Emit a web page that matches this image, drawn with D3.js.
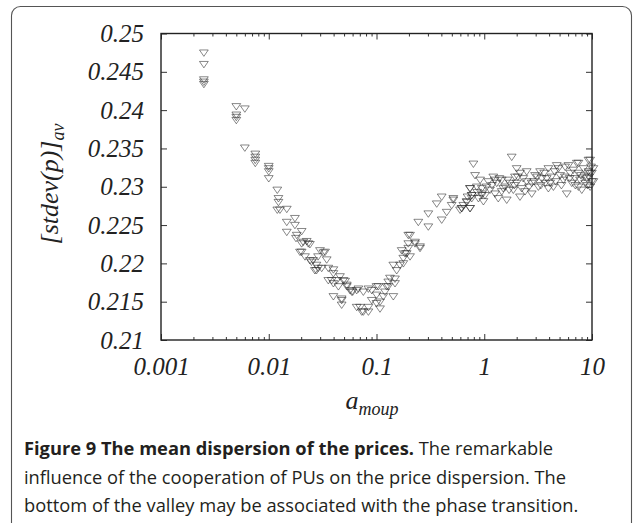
<!DOCTYPE html>
<html lang="en">

<head>
    <meta charset="utf-8">
    <title>Mean dispersion of the prices</title>
    <style>
        * {
            margin: 0;
            padding: 0;
            box-sizing: border-box;
        }

        body {
            background: #fff;
            width: 633px;
            height: 523px;
            overflow: hidden;
        }

        svg {
            display: block;
        }
    </style>
</head>

<body>
    <div id="chart"></div>
    <script src="https://d3js.org/d3.v7.min.js"></script>

    <script>
        // [a_moup, stdev] pairs, left branch of the curve
        var fallBranch = [
            [0.0025, 0.2475], [0.0025, 0.2460], [0.0025, 0.2440], [0.0025, 0.2437], [0.0025, 0.2434],
            [0.005, 0.2405], [0.006, 0.2402], [0.005, 0.2394], [0.005, 0.2391], [0.005, 0.2387],
            [0.006, 0.2351], [0.0075, 0.2343], [0.0075, 0.2339], [0.0075, 0.2335], [0.0075, 0.2331],
            [0.01, 0.2327], [0.01, 0.2324], [0.01, 0.2320], [0.01, 0.2311],
            [0.012, 0.2296], [0.0123, 0.2285], [0.0123, 0.2280], [0.012, 0.2270], [0.0127, 0.2270], [0.0147, 0.2271],
            [0.0175, 0.2259], [0.0147, 0.2254], [0.0175, 0.2250], [0.0147, 0.2241], [0.0202, 0.2242], [0.0179, 0.2233],
            [0.0182, 0.2237], [0.0209, 0.2228], [0.0225, 0.2229], [0.0241, 0.2225], [0.0233, 0.2226], [0.0202, 0.2226],
            [0.0195, 0.2215], [0.0202, 0.2215], [0.0299, 0.2217], [0.0321, 0.2214], [0.0333, 0.2215], [0.0217, 0.2209],
            [0.0287, 0.2209], [0.0258, 0.2204], [0.0241, 0.2204], [0.0345, 0.2205], [0.0249, 0.2202], [0.031, 0.2194],
            [0.0277, 0.2198], [0.0277, 0.2191], [0.0268, 0.2191], [0.0287, 0.2194], [0.0357, 0.2194]
        ];

        // bottom of the valley
        var valleyFloor = [
            [0.0398, 0.2192], [0.0398, 0.2187], [0.0458, 0.2183], [0.0384, 0.2178], [0.0428, 0.2178], [0.0493, 0.2178],
            [0.0357, 0.2178], [0.0511, 0.2177], [0.0398, 0.2174], [0.0443, 0.2170], [0.053, 0.2172], [0.053, 0.2170],
            [0.0568, 0.2165], [0.0601, 0.2163], [0.0589, 0.2163], [0.0679, 0.2167], [0.0655, 0.2165], [0.0755, 0.2163],
            [0.0841, 0.2167], [0.0904, 0.2165], [0.1, 0.2170], [0.1039, 0.2170], [0.0398, 0.2157], [0.0475, 0.2154],
            [0.0475, 0.2152], [0.0475, 0.2146], [0.0655, 0.2143], [0.0704, 0.2143], [0.073, 0.2137], [0.0755, 0.2137],
            [0.0841, 0.2137], [0.0841, 0.2143], [0.0904, 0.2152], [0.1078, 0.2150], [0.1078, 0.2141], [0.1, 0.2148],
            [0.1, 0.2159], [0.1157, 0.2157], [0.1432, 0.2157], [0.1199, 0.2163], [0.1243, 0.2170], [0.1286, 0.2170],
            [0.1286, 0.2176], [0.1485, 0.2174], [0.1334, 0.2181], [0.1485, 0.2180]
        ];

        // right branch, climbing out of the valley
        var riseBranch = [
            [0.1432, 0.2198], [0.1539, 0.2191], [0.1652, 0.2198], [0.1773, 0.2200], [0.1773, 0.2207], [0.184, 0.2213],
            [0.1906, 0.2213], [0.1713, 0.2217], [0.2047, 0.2209], [0.1973, 0.2220], [0.1973, 0.2226], [0.1973, 0.2237],
            [0.2047, 0.2237], [0.2276, 0.2226], [0.2276, 0.2228], [0.2535, 0.2222], [0.2535, 0.2220], [0.2443, 0.2254],
            [0.3027, 0.2248], [0.3027, 0.2265], [0.3622, 0.2278], [0.4028, 0.2257], [0.4484, 0.2267], [0.4986, 0.2276],
            [0.5162, 0.2283], [0.4028, 0.2287], [0.5162, 0.2285], [0.5962, 0.2270], [0.618, 0.2272], [0.6398, 0.2276],
            [0.6884, 0.2280], [0.738, 0.2272], [0.7655, 0.2285], [0.7655, 0.2289], [0.738, 0.2298], [0.9487, 0.2289]
        ];

        // saturation for strong cooperation
        var plateau = [
            [0.618, 0.2272], [0.688, 0.2281], [0.738, 0.2272], [0.766, 0.2289], [0.738, 0.2298], [0.793, 0.2330],
            [0.822, 0.2315], [0.915, 0.2309], [0.853, 0.2300], [0.949, 0.2291], [0.982, 0.2281], [0.883, 0.2285],
            [1.016, 0.2289], [1.131, 0.2296], [1.09, 0.2307], [1.213, 0.2313], [1.305, 0.2305], [1.349, 0.2285],
            [1.26, 0.2291], [1.452, 0.2294], [1.452, 0.2309], [1.616, 0.2283], [1.56, 0.2300], [1.734, 0.2305],
            [1.798, 0.2339], [1.928, 0.2313], [1.862, 0.2296], [2.0, 0.2324], [2.146, 0.2318], [2.226, 0.2298],
            [2.146, 0.2287], [2.0, 0.2305], [2.477, 0.2320], [2.477, 0.2307], [2.39, 0.2294], [2.758, 0.2305],
            [2.758, 0.2291], [2.963, 0.2315], [3.298, 0.2320], [3.42, 0.2311], [3.18, 0.2300], [3.936, 0.2324],
            [3.80, 0.2311], [3.936, 0.2298], [4.384, 0.2300], [4.084, 0.2305], [4.71, 0.2328], [5.054, 0.2315],
            [4.88, 0.2324], [5.43, 0.2309], [5.83, 0.2291], [6.04, 0.2328], [5.63, 0.2326], [6.49, 0.2305],
            [6.27, 0.2318], [6.98, 0.2311], [7.23, 0.2331], [7.48, 0.2318], [7.48, 0.2300], [8.04, 0.2296],
            [8.33, 0.2324], [7.75, 0.2309], [8.95, 0.2311], [9.27, 0.2320], [9.61, 0.2335], [9.97, 0.2307],
            [9.61, 0.2300], [8.64, 0.2305], [9.97, 0.2318], [10.3, 0.2324], [7.48, 0.2331], [9.27, 0.2335],
            [10.3, 0.2307], [9.61, 0.2318],
            [1.05, 0.2300], [1.18, 0.2302], [1.25, 0.2309], [1.38, 0.2311], [1.5, 0.2298], [1.65, 0.2309],
            [1.7, 0.2296], [1.9, 0.2302], [2.05, 0.2313], [2.3, 0.2311], [2.6, 0.2300], [2.9, 0.2307],
            [3.1, 0.2313], [3.35, 0.2302], [3.6, 0.2318], [3.7, 0.2305], [4.2, 0.2313], [4.5, 0.2320],
            [4.6, 0.2307], [5.2, 0.2302], [5.6, 0.2313], [6.2, 0.2311], [6.7, 0.2322], [7.0, 0.2302],
            [7.9, 0.2315], [8.5, 0.2313], [9.1, 0.2302], [9.4, 0.2313], [9.8, 0.2326], [0.95, 0.2298],
            [0.86, 0.2293], [0.7, 0.2287]
        ];

        var xTicks = [0.001, 0.01, 0.1, 1, 10];
        var xTickLabels = ["0.001", "0.01", "0.1", "1", "10"];
        var yTicks = [0.21, 0.215, 0.22, 0.225, 0.23, 0.235, 0.24, 0.245, 0.25];
        var yTickLabels = ["0.21", "0.215", "0.22", "0.225", "0.23", "0.235", "0.24", "0.245", "0.25"];

        var captionTitle = "Figure 9 The mean dispersion of the prices.";
        var captionLines = [
            " The remarkable",
            "influence of the cooperation of PUs on the price dispersion. The",
            "bottom of the valley may be associated with the phase transition."
        ];

        var width = 633,
            height = 523;
        var plot = { left: 161, right: 592, top: 33.5, bottom: 340 };
        var serif = "'Liberation Serif', 'DejaVu Serif', serif";

        var svg = d3.select("#chart")
            .append("svg")
            .attr("width", width)
            .attr("height", height);

        // rounded figure frame, runs off the bottom
        svg.append("rect")
            .attr("x", 11.5)
            .attr("y", 6.5)
            .attr("width", 620)
            .attr("height", 600)
            .attr("rx", 9)
            .style("fill", "none")
            .style("stroke", "#555")
            .style("stroke-width", 1.1);

        var x = d3.scaleLog().domain([0.001, 10]).range([plot.left, plot.right]);
        var y = d3.scaleLinear().domain([0.21, 0.25]).range([plot.bottom, plot.top]);

        var minorX = x.ticks().filter(function (t) {
            return xTicks.indexOf(t) < 0;
        });

        function styleAxis(g) {
            g.select(".domain").remove();
            g.selectAll("line").style("stroke", "#333").style("stroke-width", 1);
        }

        // inward ticks on all four sides
        svg.append("g")
            .attr("transform", "translate(0," + plot.bottom + ")")
            .call(d3.axisBottom(x).tickValues(minorX).tickSize(-3).tickFormat(""))
            .call(styleAxis);
        svg.append("g")
            .attr("transform", "translate(0," + plot.top + ")")
            .call(d3.axisTop(x).tickValues(minorX).tickSize(-3).tickFormat(""))
            .call(styleAxis);
        svg.append("g")
            .attr("transform", "translate(0," + plot.top + ")")
            .call(d3.axisTop(x).tickValues(xTicks).tickSize(-6).tickFormat(""))
            .call(styleAxis);
        svg.append("g")
            .attr("transform", "translate(" + plot.right + ",0)")
            .call(d3.axisRight(y).tickValues(yTicks).tickSize(-6).tickFormat(""))
            .call(styleAxis);

        var xAxis = svg.append("g")
            .attr("transform", "translate(0," + plot.bottom + ")")
            .call(d3.axisBottom(x).tickValues(xTicks).tickSize(-6).tickPadding(17)
                .tickFormat(function (d, i) { return xTickLabels[i]; }))
            .call(styleAxis);

        var yAxis = svg.append("g")
            .attr("transform", "translate(" + plot.left + ",0)")
            .call(d3.axisLeft(y).tickValues(yTicks).tickSize(-6).tickPadding(17)
                .tickFormat(function (d, i) { return yTickLabels[i]; }))
            .call(styleAxis);

        svg.selectAll(".tick text")
            .style("font-family", serif)
            .style("font-style", "italic")
            .style("font-size", "25px")
            .style("fill", "#222");

        // plot box
        svg.append("rect")
            .attr("x", plot.left)
            .attr("y", plot.top)
            .attr("width", plot.right - plot.left)
            .attr("height", plot.bottom - plot.top)
            .style("fill", "none")
            .style("stroke", "#222")
            .style("stroke-width", 1.4);

        // open downward triangles
        var points = fallBranch.concat(valleyFloor, riseBranch, plateau);
        svg.append("g")
            .selectAll("path")
            .data(points)
            .enter()
            .append("path")
            .attr("d", "M-4.4,-2.7L4.4,-2.7L0,3.7Z")
            .attr("transform", function (d) {
                return "translate(" + x(d[0]) + "," + y(d[1]) + ")";
            })
            .style("fill", "none")
            .style("stroke", "#222")
            .style("stroke-opacity", 0.6)
            .style("stroke-width", 0.9);

        // axis titles
        var xTitle = svg.append("text")
            .attr("x", 372)
            .attr("y", 409)
            .attr("text-anchor", "middle")
            .style("font-family", serif)
            .style("font-style", "italic")
            .style("font-size", "26px")
            .style("fill", "#222");
        xTitle.append("tspan").text("a");
        xTitle.append("tspan").attr("dy", 6).style("font-size", "18px").text("moup");

        var yTitle = svg.append("text")
            .attr("transform", "translate(58," + 184 + ") rotate(-90)")
            .attr("text-anchor", "middle")
            .style("font-family", serif)
            .style("font-style", "italic")
            .style("font-size", "26px")
            .style("fill", "#222");
        yTitle.append("tspan").text("[stdev(p)]");
        yTitle.append("tspan").attr("dy", 6).style("font-size", "18px").text("av");

        // caption
        var caption = svg.append("g")
            .style("font-family", "'Open Sans', 'Noto Sans', sans-serif")
            .style("font-size", "18.3px")
            .style("fill", "#231f20");

        var first = caption.append("text").attr("x", 24).attr("y", 455);
        first.append("tspan").style("font-weight", "bold").text(captionTitle);
        first.append("tspan").text(captionLines[0]);

        caption.append("text").attr("x", 24).attr("y", 484).text(captionLines[1]);
        caption.append("text").attr("x", 24).attr("y", 512).text(captionLines[2]);
    </script>
</body>

</html>
